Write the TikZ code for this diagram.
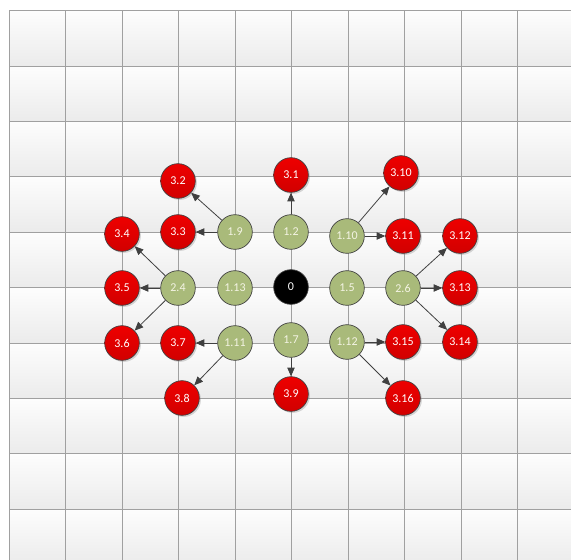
\documentclass[tikz,border=0pt]{standalone}
\usepackage{fontspec}
\setmainfont{Carlito}
\usetikzlibrary{arrows.meta,shadows}
\definecolor{cellline}{HTML}{A0A0A0}
\definecolor{celltop}{HTML}{FDFDFD}
\definecolor{cellbot}{HTML}{EBEBEB}
\definecolor{hopgreen}{HTML}{A9BA7A}
\definecolor{hopred}{HTML}{EE0000}
\definecolor{rim}{HTML}{404040}
\definecolor{greentext}{HTML}{F4F4E4}
\tikzset{
  % ---- background grid -------------------------------------------
  cell/.style    = {draw=cellline, line width=.7pt,
                    top color=celltop, bottom color=cellbot},
  % ---- nodes ------------------------------------------------------
  dot/.style     = {circle, draw=rim, line width=.5pt, inner sep=0pt,
                    minimum size=26pt, font=\fontsize{9}{10}\selectfont},
  root/.style    = {dot, fill=black, text=white},
  lvlone/.style  = {dot, fill=hopgreen, text=greentext},
  lvlthree/.style= {dot, top color=hopred, bottom color=hopred!88!black,
                    text=white,
                    drop shadow={shadow xshift=1.2pt, shadow yshift=-1.2pt,
                                 opacity=.3}},
  % ---- connectors -------------------------------------------------
  hop/.style     = {draw=rim, line width=.6pt,
                    -{Triangle[length=6.5pt,width=5.5pt]}},
}
\begin{document}
\begin{tikzpicture}[x=0.75pt,y=-0.75pt]
  \useasboundingbox (0,0) rectangle (571,560);
  \clip (0,0) rectangle (571,560);
  \foreach \i in {0,...,9}
    \foreach \j in {0,...,9}
      \draw[cell] ({9+56.5*\i},{10.7+55.4*\j}) rectangle ++(56.5,55.4);
  % centre
  \node[root] (n0) at (291,287) {0};
  % first ring
  \node[lvlone] (n1-2) at (291,232) {1.2};
  \node[lvlone] (n1-9) at (235,232) {1.9};
  \node[lvlone] (n1-13) at (235,288) {1.13};
  \node[lvlone] (n1-11) at (235,343) {1.11};
  \node[lvlone] (n1-7) at (291,340) {1.7};
  \node[lvlone] (n1-10) at (347,236) {1.10};
  \node[lvlone] (n1-5) at (347,288) {1.5};
  \node[lvlone] (n1-12) at (347,342) {1.12};
  \node[lvlone] (n2-4) at (178,288) {2.4};
  \node[lvlone] (n2-6) at (403,288) {2.6};
  % outer ring
  \node[lvlthree] (n3-1) at (291,175) {3.1};
  \node[lvlthree] (n3-2) at (178,181) {3.2};
  \node[lvlthree] (n3-3) at (178,232) {3.3};
  \node[lvlthree] (n3-4) at (122,234) {3.4};
  \node[lvlthree] (n3-5) at (122,288) {3.5};
  \node[lvlthree] (n3-6) at (122,343) {3.6};
  \node[lvlthree] (n3-7) at (178,343) {3.7};
  \node[lvlthree] (n3-8) at (182,398) {3.8};
  \node[lvlthree] (n3-9) at (291,394) {3.9};
  \node[lvlthree] (n3-10) at (401,173) {3.10};
  \node[lvlthree] (n3-11) at (403,236) {3.11};
  \node[lvlthree] (n3-12) at (460,236) {3.12};
  \node[lvlthree] (n3-13) at (460,288) {3.13};
  \node[lvlthree] (n3-14) at (460,342) {3.14};
  \node[lvlthree] (n3-15) at (403,342) {3.15};
  \node[lvlthree] (n3-16) at (403,398) {3.16};
  % hops
  \draw[hop] (n1-2) -- (n3-1);
  \draw[hop] (n1-9) -- (n3-2);
  \draw[hop] (n1-9) -- (n3-3);
  \draw[hop] (n2-4) -- (n3-4);
  \draw[hop] (n2-4) -- (n3-5);
  \draw[hop] (n2-4) -- (n3-6);
  \draw[hop] (n1-11) -- (n3-7);
  \draw[hop] (n1-11) -- (n3-8);
  \draw[hop] (n1-7) -- (n3-9);
  \draw[hop] (n1-10) -- (n3-10);
  \draw[hop] (n1-10) -- (n3-11);
  \draw[hop] (n2-6) -- (n3-12);
  \draw[hop] (n2-6) -- (n3-13);
  \draw[hop] (n2-6) -- (n3-14);
  \draw[hop] (n1-12) -- (n3-15);
  \draw[hop] (n1-12) -- (n3-16);
\end{tikzpicture}
\end{document}
